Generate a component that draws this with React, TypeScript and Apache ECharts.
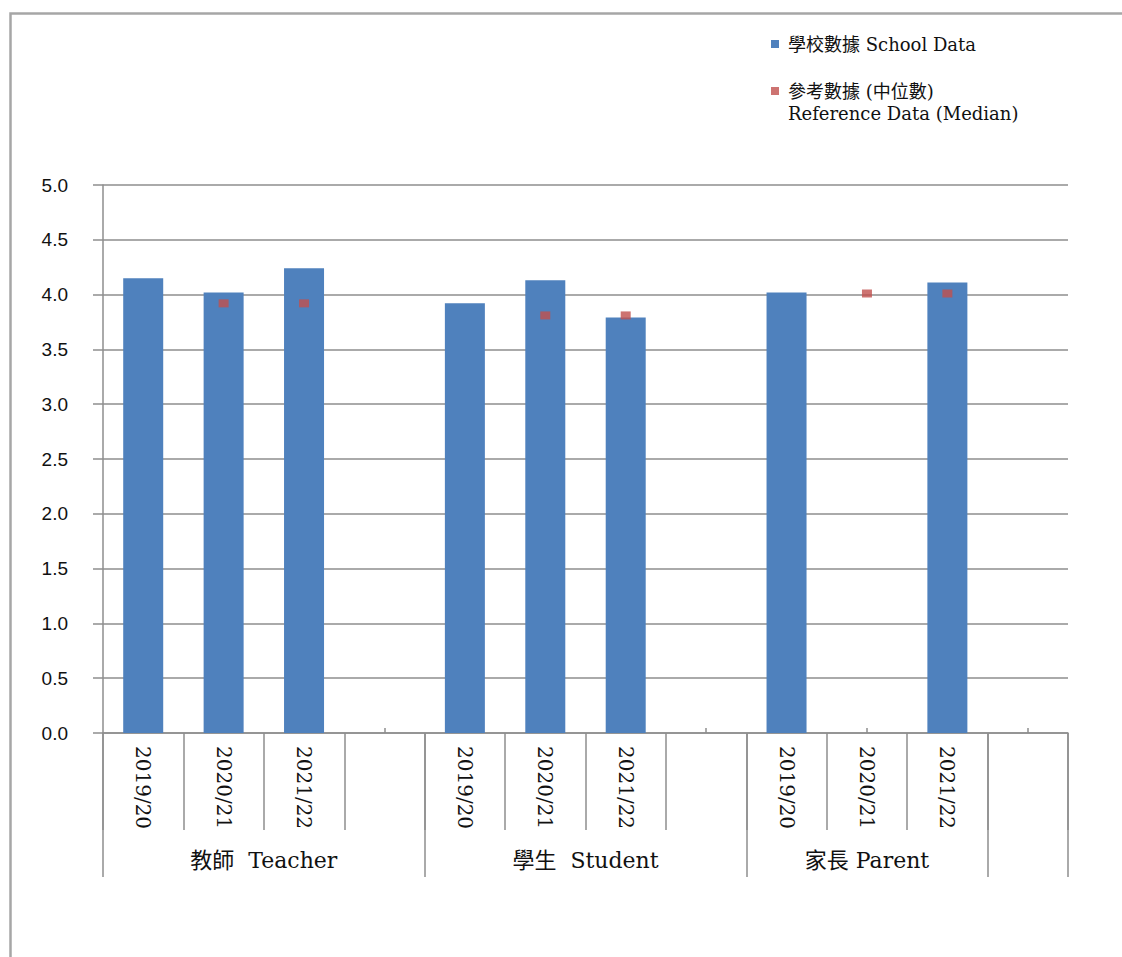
import React, { useEffect, useRef } from "react";
import * as echarts from "echarts";

// ---- data ----
const yearLabels = ["2019/20", "2020/21", "2021/22"];
const groupNames = ["教師  Teacher", "學生  Student", "家長 Parent"];
// number of category slots in each group (blank trailing slots included)
const groupSlots = [4, 4, 3, 1];
const teacherSchool = [4.15, 4.02, 4.24];
const studentSchool = [3.92, 4.13, 3.79];
const parentSchool = [4.02, null, 4.11];
const teacherMedian = [null, 3.92, 3.92];
const studentMedian = [null, 3.81, 3.81];
const parentMedian = [null, 4.01, 4.01];
const yTicks = { min: 0, max: 5, interval: 0.5 };
const seriesNames = ["學校數據 School Data", "\n參考數據 (中位數)\nReference Data (Median)"];

// build 12 slots: each group = 3 years + blank
const slotLabels: string[] = [];
const schoolValues: (number | null)[] = [];
const medianValues: (number | null)[] = [];
const groupsSchool = [teacherSchool, studentSchool, parentSchool];
const groupsMedian = [teacherMedian, studentMedian, parentMedian];
for (let g = 0; g < 3; g++) {
  for (let i = 0; i < yearLabels.length; i++) {
    slotLabels.push(yearLabels[i]);
    schoolValues.push(groupsSchool[g][i]);
    medianValues.push(groupsMedian[g][i]);
  }
  const extra = g < 2 ? groupSlots[g] - 3 : 0;
  for (let k = 0; k < extra; k++) {
    slotLabels.push("");
    schoolValues.push(null);
    medianValues.push(null);
  }
}
// trailing blank group
for (let k = 0; k < groupSlots[3]; k++) {
  slotLabels.push("");
  schoolValues.push(null);
  medianValues.push(null);
}
const totalSlots = slotLabels.length; // 12

// second level axis: half-slot points (boundaryGap false)
const halfCount = totalSlots * 2 + 1;
const groupAxisData: string[] = new Array(halfCount).fill("");
const boundaryIdx: number[] = [0];
let start = 0;
for (let g = 0; g < groupSlots.length; g++) {
  if (g < groupNames.length) {
    groupAxisData[start * 2 + groupSlots[g]] = groupNames[g];
  }
  start += groupSlots[g];
  boundaryIdx.push(start * 2);
}

const GRAY = "#8e8e8e";
const SERIF = "'DejaVu Serif', 'Noto Sans CJK TC', serif";

export default function App() {
  const ref = useRef<HTMLDivElement>(null);
  useEffect(() => {
    if (!ref.current) return;
    const chart = echarts.init(ref.current, undefined, { renderer: "svg" });
    chart.setOption({
      animation: false,
      backgroundColor: "#ffffff",
      grid: { left: 103, right: 54, top: 185, bottom: 224, containLabel: false },
      legend: {
        orient: "vertical",
        left: 766,
        top: 28,
        itemGap: 3,
        itemWidth: 8,
        itemHeight: 8,
        icon: "rect",
        textStyle: {
          fontFamily: SERIF,
          fontSize: 18,
          color: "#111",
          lineHeight: 22,
          padding: [0, 0, 0, 4],
        },
        data: [
          { name: seriesNames[0], itemStyle: { color: "#4f81bd" } },
          { name: seriesNames[1], itemStyle: { color: "#c0504d" } },
        ],
      },
      graphic: [
        {
          type: "rect",
          left: 8,
          top: 11,
          shape: { x: 0, y: 0, width: 1300, height: 1300 },
          style: { fill: "none", stroke: "#a6a6a6", lineWidth: 2.5 },
          silent: true,
          z: -10,
        },
      ],
      xAxis: [
        {
          type: "category",
          data: slotLabels,
          position: "bottom",
          axisLine: { show: true, lineStyle: { color: GRAY, width: 1.5 } },
          axisTick: { show: true, interval: 0, length: 97, lineStyle: { color: GRAY, width: 1.5 } },
          axisLabel: {
            interval: 0,
            rotate: -90,
            margin: 13,
            fontSize: 20,
            fontFamily: SERIF,
            color: "#111",
          },
        },
        {
          type: "category",
          data: groupAxisData,
          position: "bottom",
          boundaryGap: false,
          axisLine: { show: false },
          axisTick: {
            show: true,
            length: 144,
            interval: (i: number) => boundaryIdx.indexOf(i) >= 0,
            lineStyle: { color: GRAY, width: 1.5 },
          },
          axisLabel: {
            interval: (i: number, v: string) => v !== "",
            margin: 116,
            fontSize: 22,
            fontFamily: SERIF,
            color: "#111",
          },
        },
        {
          type: "category",
          data: slotLabels,
          position: "bottom",
          axisLine: { show: false },
          axisTick: {
            show: true,
            alignWithLabel: true,
            inside: true,
            interval: 0,
            length: 5,
            lineStyle: { color: GRAY, width: 1.5 },
          },
          axisLabel: { show: false },
        },
      ],
      yAxis: {
        type: "value",
        min: yTicks.min,
        max: yTicks.max,
        interval: yTicks.interval,
        axisLine: { show: true, lineStyle: { color: GRAY, width: 1.5 } },
        axisTick: { show: true, length: 10, lineStyle: { color: GRAY, width: 1.5 } },
        splitLine: { show: true, lineStyle: { color: GRAY, width: 1.5 } },
        axisLabel: {
          margin: 35,
          fontSize: 19,
          fontFamily: "'Liberation Sans', Arial, sans-serif",
          color: "#111",
          formatter: (v: number) => v.toFixed(1),
        },
      },
      series: [
        {
          name: seriesNames[0],
          type: "bar",
          xAxisIndex: 0,
          data: schoolValues,
          barWidth: 40,
          itemStyle: { color: "#4f81bd" },
        },
        {
          name: seriesNames[1],
          type: "scatter",
          xAxisIndex: 0,
          data: medianValues,
          symbol: "rect",
          symbolSize: [10, 8],
          itemStyle: { color: "#c0504d" },
          z: 5,
        },
      ],
    });
    return () => chart.dispose();
  }, []);
  return (
    <div
      ref={ref}
      style={{ position: "absolute", left: 0, top: 0, width: 1122, height: 957 }}
    />
  );
}
